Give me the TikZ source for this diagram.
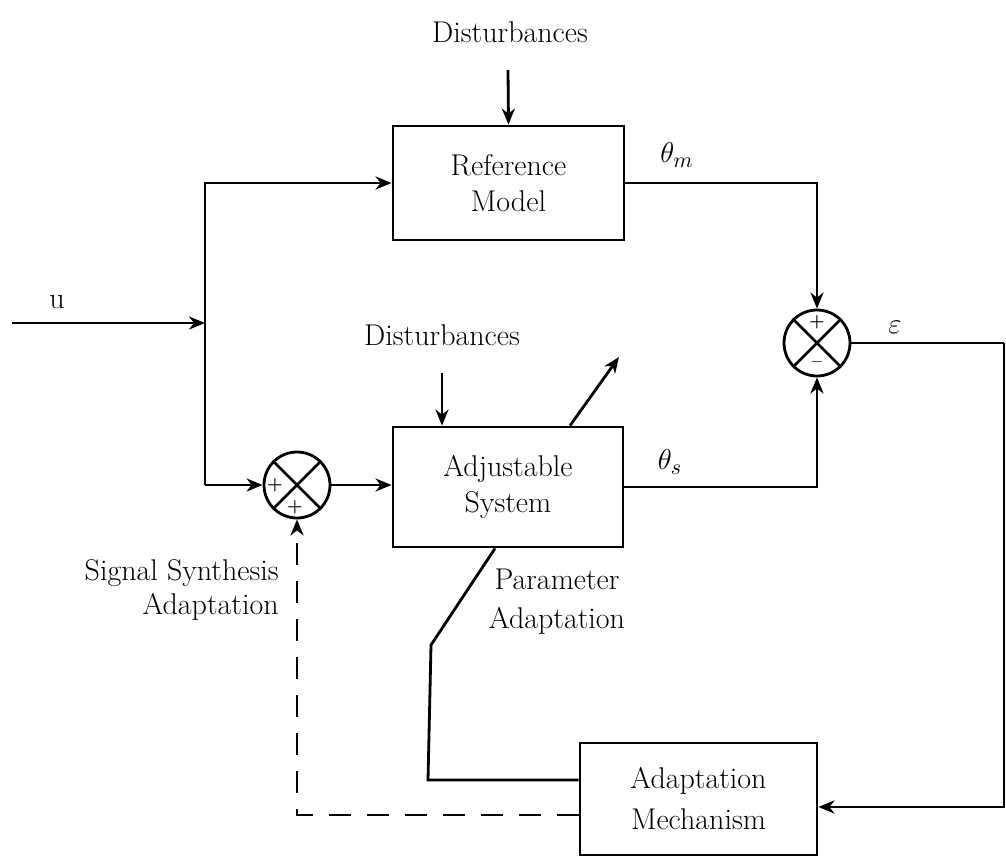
\documentclass[tikz,border=0pt]{standalone}
\usetikzlibrary{arrows.meta}
\begin{document}
\begin{tikzpicture}[x=0.5pt,y=-0.5pt,
  line width=1.4pt,
  txt/.style={font=\fontsize{15}{18}\selectfont, inner sep=0pt},
  blockbox/.style={draw, rectangle, align=center, font=\fontsize{15}{18}\selectfont, inner sep=2pt},
  sumcirc/.style={draw, circle, minimum size=33pt, inner sep=0pt},
  sign/.style={font=\fontsize{8.5}{8.5}\selectfont\bfseries, inner sep=0pt},
  arr/.style={-{Stealth[length=8pt,width=6.5pt,inset=2.5pt]}},
  dasharr/.style={arr, dash pattern=on 11pt off 8pt},
]
\useasboundingbox (0,0) rectangle (1006,856);

% blocks
\node[blockbox, minimum width=115.5pt, minimum height=57pt] (ref) at (508.5,183) {Reference\\Model};
\node[blockbox, minimum width=115pt, minimum height=60pt] (adj) at (508,487) {Adjustable\\System};
\node[blockbox, minimum width=118.5pt, minimum height=56pt, font=\fontsize{15}{20.5}\selectfont] (adapt) at (698.5,799) {Adaptation\\Mechanism};

% summing junctions
\node[sumcirc] (sumR) at (817,343) {};
\draw (sumR.north east) -- (sumR.south west) (sumR.north west) -- (sumR.south east);
\node[sign] (sR1) at ([yshift=10.5pt]sumR.center) {+};
\node[sign] (sR2) at ([yshift=-10.5pt]sumR.center) {--};

\node[sumcirc] (sumL) at (297,485) {};
\draw (sumL.north east) -- (sumL.south west) (sumL.north west) -- (sumL.south east);
\node[sign] (sL1) at ([xshift=-11pt]sumL.center) {+};
\node[sign] (sL2) at ([xshift=-1pt,yshift=-11pt]sumL.center) {+};

% texts
\node[txt] (dist1) at (510,32) {Disturbances};
\node[txt] (dist2) at (442,335) {Disturbances};
\node[txt] (ulab) at (57,302) {u};
\node[txt] (thm) at (677,155) {$\theta_m$};
\node[txt] (ths) at (670,462) {$\theta_s$};
\node[txt] (eps) at (895,327) {$\varepsilon$};
\node[txt, anchor=east, align=right, font=\fontsize{15}{17}\selectfont] (ssa) at (280,590) {Signal Synthesis\\Adaptation};
\node[txt, align=center, font=\fontsize{15}{19.5}\selectfont] (pa) at (557,602) {Parameter\\Adaptation};

% coordinates
\coordinate (u0) at (12,323);
\coordinate (ujoin) at (205,323);
\coordinate (jbot) at (205,485);
\coordinate (d1) at (508,70);
\coordinate (d2) at (442,373);
\coordinate (tip) at (619,357);
\coordinate (eR) at (1004,343);
\coordinate (p1) at (431,645);
\coordinate (p2) at (428,780);

% connectors
\draw[arr] (u0) -- (ujoin);
\draw[arr] (jbot) |- (ref.west);
\draw[arr] (jbot) -- (sumL.west);
\draw[arr] (sumL.east) -- (sumL.east -| adj.west);
\draw[arr] (d1) -- (ref.north);
\draw[arr] (d2) -- (d2 |- adj.north);
\draw[arr] ([xshift=31pt]adj.north) -- (tip);
\draw[arr] (ref.east) -| (sumR.north);
\draw[arr] (adj.east) -| (sumR.south);
\draw (sumR.east) -- (eR);
\draw[arr] (eR) |- ([yshift=-4pt]adapt.east);
\draw ([xshift=-6.5pt]adj.south) -- (p1) -- (p2) -- (p2 -| adapt.west);
\draw[dasharr] ([yshift=-8pt]adapt.west) -| (sumL.south);
\end{tikzpicture}
\end{document}
